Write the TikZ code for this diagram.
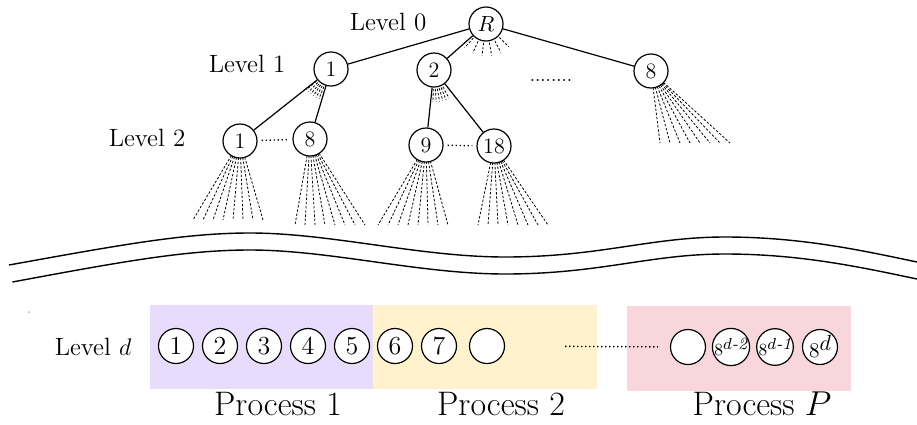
\documentclass[tikz,border=0pt]{standalone}
\usetikzlibrary{calc}
\definecolor{purp}{RGB}{232,220,252}
\definecolor{yell}{RGB}{255,242,204}
\definecolor{pink}{RGB}{248,214,219}

\begin{document}
\begin{tikzpicture}[x=0.5pt, y=-0.5pt, line width=0.6pt,
    tnode/.style={draw, circle, fill=white, minimum size=17pt, inner sep=0pt, font=\fontsize{11}{13}\selectfont},
    bnode/.style={draw, circle, fill=white, minimum size=17.5pt, inner sep=0pt, font=\fontsize{13}{15}\selectfont},
    fan/.style={line width=0.4pt, dash pattern=on 1.2pt off 0.9pt},
    dots/.style={line width=0.7pt, dash pattern=on 0.7pt off 1.3pt},
    lvl/.style={font=\fontsize{12.5}{15}\selectfont},
    proc/.style={font=\fontsize{17}{20}\selectfont, anchor=base}]
    \useasboundingbox (0,0) rectangle (917,424);

    \node[lvl] (l0) at (388,22) {Level 0};
    \node[lvl] (l1) at (247,64) {Level 1};
    \node[lvl] (l2) at (147,138) {Level 2};
    \node[lvl] (ld) at (93,347) {Level $d$};

    % fans first, nodes on top
    \foreach \n/\x/\y/\w/\h in {a1/240/141/-47/79, a8/310/139/-15/86, b9/426/145/-48/80, b18/494/146/-16/79, c/651/71/9/72}
        \foreach \i in {0,...,7}
            \draw[fan] (\x,\y) -- ($(\x,\y)+(\w+\i*10,\h)$);
    \foreach \x/\y/\p/\q in {486/24/45/132, 331/69/112/140, 434/70/62/92}
        \foreach \i in {0,...,5}
            \draw[fan] ($(\x,\y)+({\p+\i*(\q-\p)/5}:19)$) -- ($(\x,\y)+({\p+\i*(\q-\p)/5}:32)$);

    \node[tnode] (r) at (486,24) {$R$};
    \node[tnode] (a) at (331,69) {1};
    \node[tnode] (b) at (434,70) {2};
    \node[tnode] (c) at (651,71) {8};
    \node[tnode] (a1) at (240,141) {1};
    \node[tnode] (a8) at (310,139) {8};
    \node[tnode] (b9) at (426,145) {9};
    \node[tnode] (b18) at (494,146) {18};
    \node[anchor=base, font=\fontsize{9.5}{11}\selectfont] (mid) at (551,81) {........};

    \draw (r) -- (a);
    \draw (r) -- (b);
    \draw (r) -- (c);
    \draw (a) -- (a1);
    \draw (a) -- (a8);
    \draw (b) -- (b9);
    \draw (b) -- (b18);
    \draw[dots, shorten <=2pt, shorten >=2pt] (a1) -- (a8);
    \draw[dots, shorten <=2pt, shorten >=2pt] (b9) -- (b18);

    % the cut
    \foreach \s in {0,17}
        \draw[line width=0.7pt] (9+\s/5,265+\s) .. controls (120,245+\s) and (185,233+\s) .. (250,233+\s)
            .. controls (330,233+\s) and (420,257+\s) .. (505,257+\s)
            .. controls (600,257+\s) and (650,237+\s) .. (725,237+\s)
            .. controls (800,237+\s) and (860,250+\s) .. (917,262+\s);

    % level d
    \fill[gray!60] (29,312) circle (0.5pt);
    \fill[purp] (150,305) rectangle (373,389);
    \fill[yell] (373,305) rectangle (597,389);
    \fill[pink] (627,306) rectangle (851,391);

    \node[bnode] (n1) at (176,346) {1};
    \node[bnode] (n2) at (220,346) {2};
    \node[bnode] (n3) at (264,346) {3};
    \node[bnode] (n4) at (308,346) {4};
    \node[bnode] (n5) at (352,346) {5};
    \node[bnode] (n6) at (395,346) {6};
    \node[bnode] (n7) at (439,346) {7};
    \node[bnode] (e1) at (487,346) {};
    \node[bnode] (e2) at (688,347) {};
    \node[bnode, font=\fontsize{8.5}{9}\selectfont] (m2) at (731,347) {8\raisebox{0.7ex}{$d$\textit{-2}}};
    \node[bnode, font=\fontsize{8.5}{9}\selectfont] (m1) at (775,347) {8\raisebox{0.7ex}{$d$\textit{-1}}};
    \node[bnode, font=\fontsize{10.5}{12}\selectfont] (m0) at (820,347) {8\raisebox{0.8ex}{$d$}};
    \draw[dots, shorten <=30pt, shorten >=6pt] (e1) -- (e2);

    \node[proc] (pr1) at (278,415) {Process 1};
    \node[proc] (pr2) at (501,415) {Process 2};
    \node[proc] (prp) at (762,415) {Process $P$};
\end{tikzpicture}
\end{document}
